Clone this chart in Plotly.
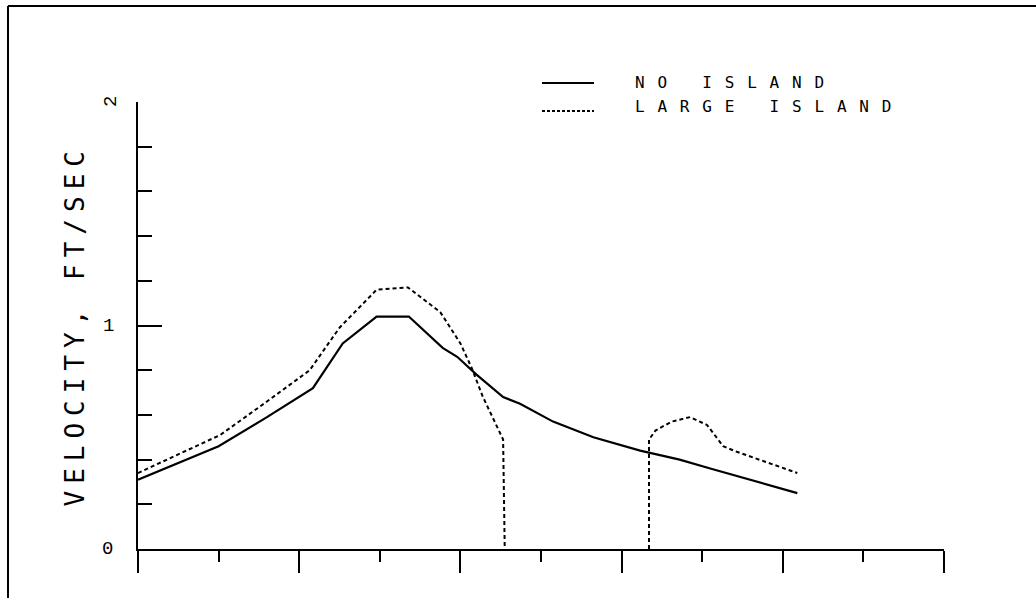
import plotly.graph_objects as go

# ---- data ----
no_island_x = [0, 1.0, 1.6, 2.17, 2.54, 2.96, 3.36, 3.78, 3.96, 4.2, 4.53, 4.74, 5.15, 5.65, 6.23, 6.72, 7.1, 7.8, 8.18]
no_island_y = [0.31, 0.46, 0.59, 0.72, 0.92, 1.04, 1.04, 0.90, 0.86, 0.78, 0.68, 0.65, 0.57, 0.50, 0.44, 0.40, 0.36, 0.29, 0.25]

large_island_x = [0, 1.02, 1.6, 2.13, 2.5, 2.96, 3.35, 3.75, 4.0, 4.14, 4.28, 4.45, 4.53, 4.55, None,
                  6.34, 6.34, 6.42, 6.62, 6.85, 7.06, 7.26, 7.43, 8.18]
large_island_y = [0.34, 0.51, 0.66, 0.80, 0.99, 1.16, 1.17, 1.06, 0.92, 0.81, 0.68, 0.55, 0.49, 0.0, None,
                  0.0, 0.49, 0.53, 0.57, 0.59, 0.555, 0.46, 0.435, 0.34]

series_names = ["NO ISLAND", "LARGE ISLAND"]
y_title = "VELOCITY, FT/SEC"
y_tick_vals = [0, 1, 2]
y_tick_text = ["0", "1", "2"]
y_tick_angle = [0, 0, -90]

# ---- layout constants (pixels) ----
W, H = 1036, 598
PL, PR, PT, PB = 138, 944, 102, 549


def px(xp):
    return (xp - PL) / (PR - PL)


def py(yp):
    return (PB - yp) / (PB - PT)


MONO = "DejaVu Sans Mono"
fig = go.Figure()

fig.add_trace(go.Scatter(x=no_island_x, y=no_island_y, mode="lines", name=series_names[0],
                         line=dict(color="black", width=2.2), showlegend=False))
fig.add_trace(go.Scatter(x=large_island_x, y=large_island_y, mode="lines", name=series_names[1],
                         line=dict(color="black", width=2, dash="4px,3px"), connectgaps=False,
                         showlegend=False))

shapes = []
# page frame (top and left only)
shapes.append(dict(type="line", xref="paper", yref="paper", x0=px(8), x1=px(W), y0=py(6), y1=py(6),
                   line=dict(color="black", width=2)))
shapes.append(dict(type="line", xref="paper", yref="paper", x0=px(8), x1=px(8), y0=py(6), y1=py(H),
                   line=dict(color="black", width=2)))
# legend samples
shapes.append(dict(type="line", xref="paper", yref="paper", x0=px(542), x1=px(594), y0=py(83), y1=py(83),
                   line=dict(color="black", width=2)))
shapes.append(dict(type="line", xref="paper", yref="paper", x0=px(542), x1=px(594), y0=py(111), y1=py(111),
                   line=dict(color="black", width=2, dash="3px,2px")))

annotations = []
# 0: y-axis title
annotations.append(dict(text=y_title, xref="paper", yref="paper", x=px(74), y=0.5, textangle=-90,
                        showarrow=False, xanchor="center", yanchor="middle",
                        font=dict(family=MONO, size=26, color="black")))
# 1,2: legend texts
annotations.append(dict(text=series_names[0], xref="paper", yref="paper", x=px(633), y=py(82),
                        showarrow=False, xanchor="left", yanchor="middle", align="left",
                        font=dict(family=MONO, size=16, color="black")))
annotations.append(dict(text=series_names[1], xref="paper", yref="paper", x=px(633), y=py(107),
                        showarrow=False, xanchor="left", yanchor="middle", align="left",
                        font=dict(family=MONO, size=16, color="black")))
# tick labels
tick_x = {0: 107, 1: 108, 2: 111}
for v, t, a in zip(y_tick_vals, y_tick_text, y_tick_angle):
    annotations.append(dict(text=t, xref="paper", yref="y", x=px(tick_x[v]), y=v, textangle=a,
                            showarrow=False, xanchor="center", yanchor="middle",
                            font=dict(family="Liberation Mono", size=19, color="black")))

fig.update_layout(
    width=W, height=H,
    margin=dict(l=PL, r=W - PR, t=PT, b=H - PB, pad=0),
    paper_bgcolor="white", plot_bgcolor="white",
    showlegend=False,
    hovermode=False,
    shapes=shapes,
    annotations=annotations,
    xaxis=dict(range=[0, 10], showgrid=False, zeroline=False, showline=True, linecolor="black", linewidth=2,
               ticks="outside", tick0=0, dtick=2, ticklen=22, tickwidth=2, tickcolor="black",
               showticklabels=False,
               minor=dict(dtick=1, tick0=0, ticks="outside", ticklen=11, tickwidth=2, tickcolor="black")),
    yaxis=dict(range=[0, 2], showgrid=False, zeroline=False, showline=True, linecolor="black", linewidth=2,
               ticks="inside", tick0=0, dtick=1, ticklen=24, tickwidth=2, tickcolor="black",
               showticklabels=False,
               minor=dict(dtick=0.2, tick0=0, ticks="inside", ticklen=14, tickwidth=2, tickcolor="black")),
)

post = (
    "document.body.style.margin='0';"
    "var s=document.createElement('style');"
    "s.textContent='body{margin:0}"
    " g.annotation[data-index=\"0\"] text{letter-spacing:7px}"
    " g.annotation[data-index=\"1\"] text, g.annotation[data-index=\"2\"] text{letter-spacing:12.8px}';"
    "document.head.appendChild(s);"
)

fig.write_html("out.html", post_script=post, config={"displayModeBar": False})
